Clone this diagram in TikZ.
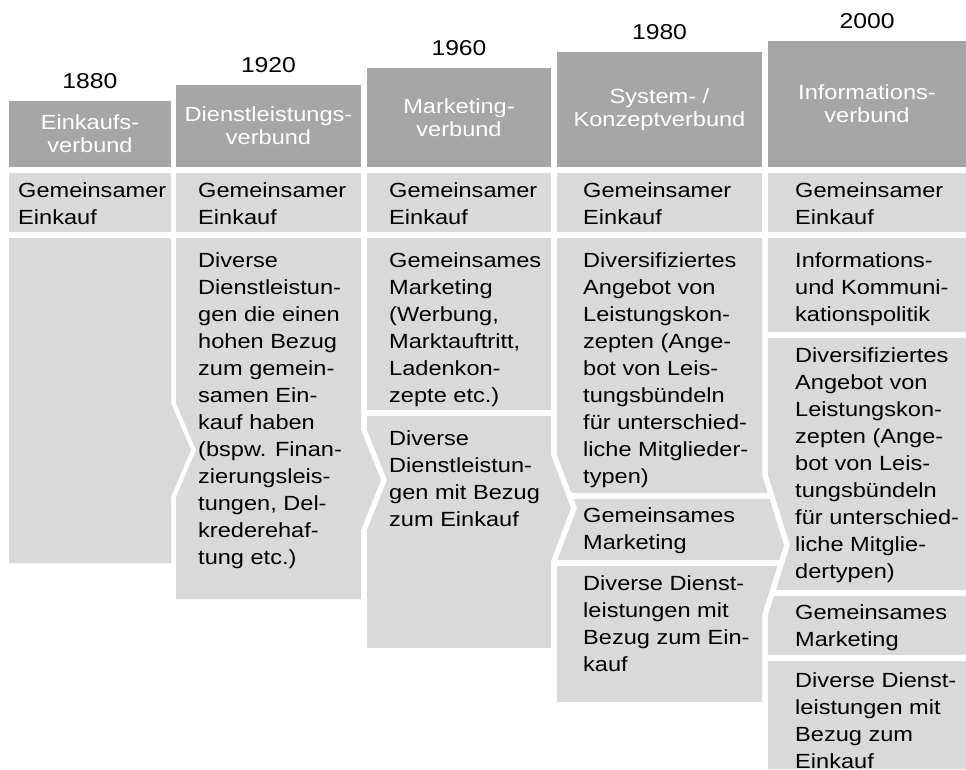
\documentclass[tikz,border=0pt]{standalone}
\usepackage{fontspec}
\setmainfont{Liberation Sans}[FakeStretch=1.15]
\definecolor{headgray}{HTML}{A6A6A6}
\definecolor{cellgray}{HTML}{D9D9D9}
\newcommand{\cellfont}{\fontsize{20.5}{27}\selectfont}
\newcommand{\headfont}{\fontsize{20.5}{23}\selectfont}
\newcommand{\yearfont}{\fontsize{21.5}{26}\selectfont}

\begin{document}
\begin{tikzpicture}[x=1pt,y=-1pt,
    head/.style={fill=headgray},
    cell/.style={fill=cellgray},
    head text/.style={align=center,text=white,font=\headfont,inner sep=0pt},
    cell text/.style={anchor=base west,align=left,font=\cellfont,inner sep=0pt},
    year text/.style={anchor=base,font=\yearfont,inner sep=0pt}]
  \useasboundingbox (0,0) rectangle (966,769);
   % years
   \node[year text] (y1880) at (90,88) {1880};
   \node[year text] (y1920) at (268.5,72) {1920};
   \node[year text] (y1960) at (459,55) {1960};
   \node[year text] (y1980) at (659.5,39) {1980};
   \node[year text] (y2000) at (867,28) {2000};
   % header boxes
   \fill[head] (9,101) rectangle (171,167);
   \fill[head] (176,85) rectangle (361,167);
   \fill[head] (367,68) rectangle (551,167);
   \fill[head] (557,52) rectangle (762,167);
   \fill[head] (768,41) rectangle (966,167);
   \node[head text] (h1880) at (90,134) {Einkaufs-\\verbund};
   \node[head text] (h1920) at (268.5,126) {Dienstleistungs-\\verbund};
   \node[head text] (h1960) at (459,117.5) {Marketing-\\verbund};
   \node[head text] (h1980) at (659.5,109.5) {System- /\\Konzeptverbund};
   \node[head text] (h2000) at (867,104) {Informations-\\verbund};
   % first row (text placed by its last baseline)
   \fill[cell] (9,173) rectangle (171,232);
   \fill[cell] (176,173) rectangle (361,232);
   \fill[cell] (367,173) rectangle (551,232);
   \fill[cell] (557,173) rectangle (762,232);
   \fill[cell] (768,173) rectangle (966,232);
   \node[cell text] (ek1) at (18,224) {Gemeinsamer\\Einkauf};
   \node[cell text] (ek2) at (198,224) {Gemeinsamer\\Einkauf};
   \node[cell text] (ek3) at (389,224) {Gemeinsamer\\Einkauf};
   \node[cell text] (ek4) at (583,224) {Gemeinsamer\\Einkauf};
   \node[cell text] (ek5) at (795,224) {Gemeinsamer\\Einkauf};
   % 1880 / 1920
   \fill[cell] (9,238) -- (171,238) -- (171,403) -- (191,450) -- (171,497)
      -- (171,563) -- (9,563) -- cycle;
   \fill[cell] (176,238) -- (361,238) -- (361,430) -- (381,480) -- (361,530)
      -- (361,599) -- (176,599) -- (176,497) -- (196,450) -- (176,403) -- cycle;
   \node[cell text] (ds2) at (198,564) {Diverse\\Dienstleistun-\\gen die einen\\hohen Bezug\\zum gemein-\\samen Ein-\\kauf haben\\(bspw. Finan-\\zierungsleis-\\tungen, Del-\\krederehaf-\\tung etc.)};
   % 1960
   \begin{scope}
     \clip (367,238) -- (551,238) -- (551,455) -- (571,508) -- (551,561)
        -- (551,648) -- (367,648) -- (367,530) -- (387,480) -- (367,430) -- cycle;
     \fill[cell] (360,238) rectangle (580,410);
     \fill[cell] (360,416) rectangle (580,648);
   \end{scope}
   \node[cell text] (mk3) at (389,402) {Gemeinsames\\Marketing\\(Werbung,\\Marktauftritt,\\Ladenkon-\\zepte etc.)};
   \node[cell text] (ds3) at (389,526) {Diverse\\Dienstleistun-\\gen mit Bezug\\zum Einkauf};
   % 1980
   \begin{scope}
     \clip (557,238) -- (762,238) -- (762,475) -- (784,545) -- (762,615)
        -- (762,702) -- (557,702) -- (557,561) -- (577,508) -- (557,455) -- cycle;
     \fill[cell] (550,238) rectangle (790,493);
     \fill[cell] (550,499) rectangle (790,560);
     \fill[cell] (550,566) rectangle (790,702);
   \end{scope}
   \node[cell text] (lk4) at (583,483) {Diversifiziertes\\Angebot von\\Leistungskon-\\zepten (Ange-\\bot von Leis-\\tungsbündeln\\für unterschied-\\liche Mitglieder-\\typen)};
   \node[cell text] (mk4) at (583,549) {Gemeinsames\\Marketing};
   \node[cell text] (ds4) at (583,671) {Diverse Dienst-\\leistungen mit\\Bezug zum Ein-\\kauf};
   % 2000
   \begin{scope}
     \clip (768,238) -- (966,238) -- (966,769) -- (768,769) -- (768,615)
        -- (790,545) -- (768,475) -- cycle;
     \fill[cell] (760,238) rectangle (966,332);
     \fill[cell] (760,338) rectangle (966,590);
     \fill[cell] (760,596) rectangle (966,655);
     \fill[cell] (760,661) rectangle (966,769);
   \end{scope}
   \node[cell text] (ik5) at (795,321) {Informations-\\und Kommuni-\\kationspolitik};
   \node[cell text] (lk5) at (795,578) {Diversifiziertes\\Angebot von\\Leistungskon-\\zepten (Ange-\\bot von Leis-\\tungsbündeln\\für unterschied-\\liche Mitglie-\\dertypen)};
   \node[cell text] (mk5) at (795,646) {Gemeinsames\\Marketing};
   \node[cell text] (ds5) at (795,768) {Diverse Dienst-\\leistungen mit\\Bezug zum\\Einkauf};
  \end{tikzpicture}
\end{document}
